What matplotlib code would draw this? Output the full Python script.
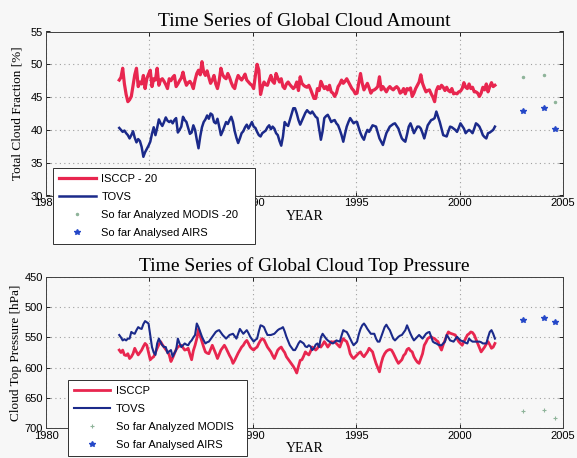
# -*- coding: utf-8 -*-
import numpy as np
import matplotlib
matplotlib.use("Agg")
import matplotlib.pyplot as plt

# monthly series, Jul 1983 .. Sep 2001
START_YEAR = 1983 + 6.5 / 12

isccp_amount = (
    [47.6, 48.0, 49.4, 47.0, 45.4, 44.3] +
    [44.6, 45.1, 46.8, 48.4, 49.4, 46.6, 47.3, 47.0, 48.3, 46.3, 47.8, 48.5] +
    [49.1, 46.6, 47.8, 47.6, 49.4, 46.8, 47.6, 47.8, 47.4, 46.9, 46.3, 47.8] +
    [47.5, 48.0, 48.3, 46.6, 47.0, 47.5, 47.9, 48.8, 47.6, 46.8, 47.2, 47.4] +
    [47.0, 46.3, 47.6, 48.6, 49.1, 48.4, 50.4, 48.8, 48.3, 49.0, 48.0, 47.1] +
    [47.6, 48.3, 47.0, 46.3, 47.5, 49.4, 48.4, 48.0, 47.8, 48.6, 48.0, 47.2] +
    [46.6, 46.3, 47.5, 48.3, 47.9, 47.6, 48.0, 48.5, 47.6, 47.3, 47.0, 46.8] +
    [46.3, 48.3, 50.0, 49.1, 45.4, 46.5, 47.3, 46.9, 46.8, 47.6, 48.3, 47.4] +
    [47.1, 48.6, 47.9, 47.3, 47.8, 46.6, 46.3, 47.0, 47.3, 46.9, 46.6, 46.3] +
    [46.6, 47.3, 46.0, 48.1, 47.1, 46.8, 46.6, 46.5, 46.8, 46.2, 45.5, 44.8] +
    [44.8, 46.3, 46.0, 47.4, 46.8, 46.3, 46.6, 46.1, 46.8, 45.8, 45.6, 45.1] +
    [45.6, 46.6, 47.0, 47.6, 47.1, 47.4, 47.8, 47.3, 46.8, 46.3, 46.0, 45.5] +
    [45.6, 47.2, 48.6, 47.1, 46.1, 46.6, 47.1, 46.4, 45.6, 46.0, 46.1, 46.3] +
    [46.6, 48.1, 46.1, 46.6, 46.2, 45.8, 46.3, 46.6, 46.3, 46.1, 46.4, 46.6] +
    [46.3, 45.6, 45.8, 46.3, 45.5, 46.3, 46.1, 46.4, 45.1, 45.6, 46.3, 46.8] +
    [47.3, 48.4, 47.1, 46.4, 45.8, 46.0, 46.1, 45.5, 45.0, 44.3, 46.0, 46.6] +
    [46.3, 46.8, 46.5, 46.0, 46.5, 46.0, 45.8, 46.3, 45.5, 45.6, 45.5, 45.8] +
    [45.9, 46.3, 47.2, 46.5, 46.3, 47.0, 46.3, 46.5, 45.8, 45.8, 45.6, 45.1] +
    [45.6, 46.5, 46.1, 47.0, 45.8, 46.6, 47.2, 46.6, 46.8]
)

tovs_amount = (
    [40.3, 40.0, 39.7, 39.9, 39.5, 39.2] +
    [38.7, 39.2, 39.8, 38.8, 38.1, 38.6, 38.3, 37.4, 35.9, 36.6, 37.1, 37.6] +
    [38.2, 39.4, 40.4, 39.2, 40.3, 41.6, 41.0, 40.6, 41.2, 41.9, 41.4, 41.2] +
    [41.4, 41.0, 41.5, 41.8, 39.6, 40.0, 40.5, 42.0, 41.5, 41.2, 40.3, 39.4] +
    [39.6, 40.7, 40.0, 38.5, 37.2, 39.0, 40.4, 41.2, 41.6, 42.2, 41.7, 42.5] +
    [42.3, 41.2, 41.0, 41.7, 40.5, 39.2, 39.8, 40.5, 41.2, 40.9, 41.5, 42.0] +
    [41.2, 39.8, 38.8, 38.0, 38.7, 39.5, 39.8, 40.4, 40.8, 40.2, 40.7, 41.2] +
    [40.5, 40.3, 39.7, 39.2, 39.0, 39.5, 39.7, 39.9, 40.4, 40.7, 40.1, 40.5] +
    [40.2, 39.5, 39.2, 38.3, 37.6, 39.0, 41.2, 40.8, 40.6, 41.5, 42.4, 43.3] +
    [43.3, 42.5, 41.5, 40.8, 41.4, 42.0, 42.6, 43.0, 42.7, 42.5, 42.8, 42.4] +
    [42.0, 41.8, 40.2, 38.5, 39.8, 41.8, 42.1, 42.3, 41.8, 41.2, 41.4, 41.5] +
    [41.0, 40.7, 40.0, 39.2, 38.2, 39.4, 40.5, 41.2, 41.8, 41.4, 41.0, 41.2] +
    [41.2, 40.3, 39.5, 38.9, 38.5, 39.4, 40.0, 39.7, 40.2, 40.7, 40.6, 40.5] +
    [39.6, 38.7, 38.2, 37.7, 38.6, 39.5, 40.0, 40.5, 40.7, 40.9, 41.0, 40.6] +
    [40.2, 39.4, 38.7, 38.4, 38.2, 39.3, 40.5, 41.0, 40.3, 39.5, 40.0, 40.5] +
    [40.5, 40.2, 39.5, 38.7, 39.7, 40.7, 41.1, 41.5, 41.6, 41.8, 42.8, 42.0] +
    [41.2, 40.2, 39.2, 39.1, 39.0, 39.8, 40.5, 40.4, 40.2, 40.0, 39.7, 40.3] +
    [41.0, 40.6, 40.2, 39.5, 39.8, 40.0, 39.8, 39.5, 40.2, 41.0, 40.8, 40.5] +
    [39.9, 39.2, 38.9, 38.7, 39.5, 39.6, 39.8, 40.0, 40.5]
)

isccp_ctp = (
    [571, 575, 571, 579, 580, 577] +
    [585, 582, 577, 568, 574, 579, 575, 571, 565, 560, 563, 575] +
    [587, 584, 582, 575, 568, 562, 557, 562, 566, 570, 574, 579] +
    [590, 584, 577, 570, 566, 564, 563, 567, 571, 570, 568, 578] +
    [587, 572, 563, 552, 536, 548, 557, 566, 574, 576, 577, 570] +
    [563, 570, 577, 585, 578, 571, 567, 563, 568, 574, 580, 585] +
    [593, 588, 582, 576, 571, 566, 563, 558, 555, 560, 566, 569] +
    [571, 568, 566, 560, 555, 552, 554, 560, 566, 570, 574, 580] +
    [585, 578, 571, 568, 566, 571, 575, 582, 586, 590, 594, 598] +
    [603, 609, 598, 588, 587, 581, 574, 577, 579, 573, 566, 568] +
    [571, 568, 563, 566, 562, 557, 561, 566, 562, 557, 558, 557] +
    [560, 563, 566, 558, 552, 555, 557, 565, 577, 582, 585, 582] +
    [579, 576, 574, 579, 582, 578, 574, 568, 571, 574, 584, 593] +
    [600, 607, 593, 583, 577, 573, 571, 570, 571, 576, 582, 588] +
    [593, 590, 587, 580, 577, 570, 568, 572, 574, 582, 587, 591] +
    [593, 585, 577, 563, 558, 552, 550, 549, 551, 552, 555, 557] +
    [565, 571, 562, 555, 547, 541, 543, 544, 545, 546, 552, 557] +
    [560, 563, 557, 552, 546, 544, 541, 542, 546, 553, 560, 567] +
    [574, 570, 566, 561, 557, 562, 568, 566, 560]
)

tovs_ctp = (
    [546, 550, 555, 553, 555, 552] +
    [552, 541, 543, 544, 538, 533, 535, 536, 528, 523, 525, 527] +
    [546, 566, 575, 579, 560, 552, 558, 563, 566, 566, 576, 573] +
    [571, 582, 576, 571, 552, 560, 566, 563, 560, 562, 563, 558] +
    [555, 550, 546, 527, 533, 541, 549, 555, 560, 558, 557, 553] +
    [549, 545, 541, 539, 538, 542, 546, 549, 552, 549, 546, 545] +
    [544, 548, 552, 544, 536, 540, 544, 541, 538, 543, 549, 553] +
    [557, 554, 552, 540, 530, 531, 533, 540, 546, 546, 546, 545] +
    [544, 541, 538, 536, 535, 533, 540, 549, 556, 563, 567, 571] +
    [571, 566, 560, 556, 558, 560, 565, 566, 563, 565, 571, 568] +
    [562, 560, 566, 550, 544, 548, 552, 555, 557, 559, 560, 558] +
    [555, 556, 557, 547, 538, 540, 541, 546, 552, 558, 563, 560] +
    [557, 545, 536, 530, 527, 531, 536, 540, 544, 544, 544, 552] +
    [557, 557, 549, 541, 533, 529, 534, 538, 545, 552, 555, 552] +
    [549, 547, 546, 542, 538, 530, 537, 544, 550, 555, 552, 549] +
    [546, 549, 552, 548, 544, 542, 541, 549, 557, 559, 560, 562] +
    [563, 563, 560, 557, 546, 550, 555, 556, 557, 553, 549, 552] +
    [555, 556, 557, 559, 560, 552, 555, 557, 557, 557, 557, 557] +
    [558, 560, 560, 560, 550, 541, 538, 544, 552]
)

# satellite points
sat_years = [2003.05, 2004.08, 2004.63]
modis_amount = [48.0, 48.4, 44.3]
airs_amount = [42.9, 43.4, 40.1]
modis_ctp = [672, 671, 683]
airs_ctp = [522, 518, 525]

RED = "#e8264f"
BLUE = "#1b2a8a"
AIRS_BLUE = "#2548c8"
MODIS_GREEN = "#8fb49a"
BG = "#f7f7f7"

SERIF = ["Liberation Serif", "DejaVu Serif"]
SANS = ["Liberation Sans", "DejaVu Sans"]

plt.rcParams["font.family"] = SANS
plt.rcParams["xtick.direction"] = "in"
plt.rcParams["ytick.direction"] = "in"

W, H = 577, 458
fig = plt.figure(figsize=(W / 100, H / 100), dpi=100, facecolor=BG)


def px_axes(left, top, right, bottom):
    return fig.add_axes([left / W, 1 - bottom / H, (right - left) / W, (bottom - top) / H])


def style(ax):
    ax.set_facecolor(BG)
    ax.set_xlim(1980, 2005)
    ax.set_xticks(range(1980, 2006, 5))
    ax.tick_params(labelsize=8, length=3, width=0.6, top=True, right=True, pad=2)
    ax.grid(True, ls=(0, (1, 3)), color="#a0a0a0", lw=0.8)
    for s in ax.spines.values():
        s.set_linewidth(0.7)
        s.set_color("#404040")


def add_legend(ax, left, top, width):
    leg = ax.legend(loc="upper left", bbox_to_anchor=(left / W, 1 - top / H, width / W, 0),
                    bbox_transform=fig.transFigure, mode="expand", fontsize=8,
                    handlelength=3.3, handletextpad=0.5, labelspacing=0.72,
                    borderpad=0.55, borderaxespad=0,
                    fancybox=False, framealpha=1, edgecolor="#303030")
    leg.get_frame().set_linewidth(0.7)
    leg.set_zorder(10)
    return leg


months = np.arange(len(isccp_amount))
years = START_YEAR + months / 12

# ---- top: cloud amount
ax1 = px_axes(46, 31.5, 563, 195.5)
style(ax1)
ax1.set_ylim(30, 55)
ax1.set_yticks(range(30, 56, 5))
ax1.plot(years, isccp_amount, color=RED, lw=2.3, label="ISCCP - 20")
ax1.plot(years, tovs_amount, color=BLUE, lw=1.8, label="TOVS")
ax1.plot(sat_years, modis_amount, ls="none", marker=".", ms=3, color=MODIS_GREEN,
         label="So far Analyzed MODIS -20")
ax1.plot(sat_years, airs_amount, ls="none", marker="*", ms=4, color=AIRS_BLUE,
         label="So far Analysed AIRS")
ax1.set_title("Time Series of Global Cloud Amount", family=SERIF, fontsize=14, pad=4)
ax1.set_ylabel("Total Cloud Fraction [%]", family=SERIF, fontsize=9.5, labelpad=5)
ax1.set_xlabel("YEAR", family=SERIF, fontsize=10, labelpad=1)
add_legend(ax1, 53, 168, 202)

# ---- bottom: cloud top pressure
ax2 = px_axes(46, 277, 563, 428)
style(ax2)
ax2.set_ylim(700, 450)
ax2.set_yticks(range(450, 701, 50))
ax2.plot(years, isccp_ctp, color=RED, lw=2.0, label="ISCCP")
ax2.plot(years, tovs_ctp, color=BLUE, lw=1.5, label="TOVS")
ax2.plot(sat_years, modis_ctp, ls="none", marker="+", ms=3, mew=0.8, color=MODIS_GREEN,
         label="So far Analyzed MODIS")
ax2.plot(sat_years, airs_ctp, ls="none", marker="*", ms=4, color=AIRS_BLUE,
         label="So far Analysed AIRS")
ax2.set_title("Time Series of Global Cloud Top Pressure", family=SERIF, fontsize=14, pad=4)
ax2.set_ylabel("Cloud Top Pressure [hPa]", family=SERIF, fontsize=9.5, labelpad=2)
ax2.set_xlabel("YEAR", family=SERIF, fontsize=10, labelpad=1)
add_legend(ax2, 67.5, 379.5, 179)

fig.savefig("out.png", dpi=100, facecolor=BG)
